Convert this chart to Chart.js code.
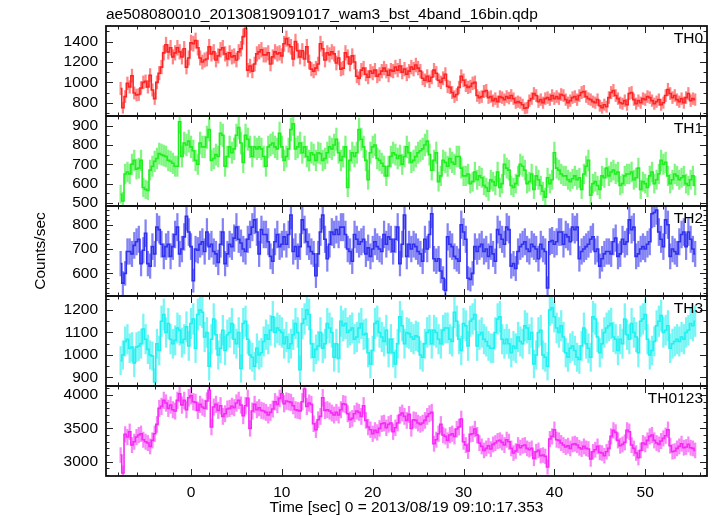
<!DOCTYPE html>
<html>
<head>
<meta charset="utf-8">
<title>ae508080010 wam3 bst 4band</title>
<script src="https://cdn.jsdelivr.net/npm/chart.js@4.4.0/dist/chart.umd.min.js"></script>
<style>
  html, body { margin: 0; padding: 0; background: #fff; }
  #wrap { position: relative; width: 717px; height: 516px; }
  #wrap canvas { position: absolute; left: 0; top: 0; }
</style>
</head>
<body>
<div id="wrap">
  <canvas id="c0" width="717" height="516"></canvas>
  <canvas id="c1" width="717" height="516"></canvas>
  <canvas id="c2" width="717" height="516"></canvas>
  <canvas id="c3" width="717" height="516"></canvas>
  <canvas id="c4" width="717" height="516"></canvas>
</div>
<script>
const fileTitle = 'ae508080010_20130819091017_wam3_bst_4band_16bin.qdp';
const xTitle = 'Time [sec] 0 = 2013/08/19 09:10:17.353';
const yTitle = 'Counts/sec';
const bandNames = ['TH0', 'TH1', 'TH2', 'TH3', 'TH0123'];

// 0.25 s bins (16 x 1/64 s), first bin centred at -7.75 s
const binStart = -7.75;
const binWidth = 0.25;

const th0 = [
  940, 750, 860, 990, 955, 1065, 895, 875, 880, 945, 1000, 1010, 955, 1070, 925, 840,
  1000, 1090, 1150, 1290, 1370, 1300, 1340, 1250, 1290, 1340, 1300, 1250, 1330, 1150, 1240, 1390,
  1380, 1410, 1340, 1240, 1200, 1220, 1230, 1350, 1280, 1300, 1220, 1260, 1320, 1340, 1280, 1230,
  1290, 1250, 1260, 1220, 1300, 1330, 1450, 1530, 1120, 1160, 1110, 1180, 1280, 1300, 1320, 1270,
  1270, 1290, 1180, 1250, 1300, 1280, 1290, 1260, 1380, 1430, 1370, 1350, 1230, 1400, 1310, 1250,
  1310, 1230, 1350, 1200, 1130, 1110, 1140, 1180, 1380, 1330, 1220, 1290, 1270, 1300, 1280, 1190,
  1240, 1130, 1140, 1290, 1250, 1180, 1260, 1200, 1060, 1040, 1120, 1140, 1080, 1050, 1110, 1090,
  1120, 1060, 1080, 1110, 1140, 1110, 1070, 1120, 1110, 1150, 1120, 1160, 1100, 1130, 1080, 1110,
  1150, 1130, 1170, 1140, 1110, 1040, 1020, 1060, 1010, 1050, 1120, 1090, 1020, 1000, 1040, 1080,
  960, 950, 900, 860, 880, 950, 1060, 1020, 970, 950, 960, 990, 1000, 870, 850, 860,
  910, 920, 850, 860, 820, 840, 810, 860, 850, 830, 860, 845, 870, 840, 800, 810,
  800, 780, 745, 750, 820, 840, 890, 870, 810, 830, 800, 840, 850, 830, 870, 840,
  860, 840, 880, 870, 830, 800, 820, 850, 860, 830, 870, 900, 910, 860, 840, 830,
  810, 800, 830, 770, 750, 780, 760, 850, 900, 920, 870, 840, 800, 790, 820, 780,
  890, 900, 830, 790, 820, 800, 840, 830, 860, 850, 820, 790, 810, 830, 780, 800,
  870, 930, 890, 850, 870, 830, 810, 840, 800, 850, 890, 820, 840, 830
];

const th1 = [
  545, 510, 650, 660, 650, 700, 720, 675, 680, 720, 580, 570, 565, 670, 690, 715,
  730, 755, 750, 745, 740, 720, 715, 705, 690, 690, 920, 740, 810, 800, 820, 790,
  770, 720, 700, 810, 790, 790, 840, 880, 720, 730, 750, 740, 860, 850, 690, 740,
  790, 760, 780, 850, 890, 810, 710, 850, 830, 790, 740, 790, 780, 790, 780, 740,
  690, 790, 800, 810, 790, 780, 860, 790, 720, 740, 780, 880, 910, 780, 790, 810,
  760, 790, 740, 720, 760, 750, 720, 760, 755, 720, 730, 760, 790, 780, 800, 830,
  760, 720, 740, 790, 580, 720, 760, 740, 760, 880, 830, 790, 720, 620, 760, 790,
  800, 730, 720, 705, 690, 640, 690, 740, 760, 750, 730, 745, 700, 740, 790, 760,
  710, 720, 740, 760, 770, 780, 800, 820, 750, 670, 720, 760, 610, 640, 720, 710,
  690, 730, 710, 700, 740, 740, 680, 640, 640, 650, 600, 610, 660, 620, 640, 630,
  590, 580, 560, 620, 610, 590, 660, 580, 600, 700, 680, 670, 590, 580, 600, 640,
  700, 690, 670, 600, 610, 650, 570, 640, 620, 590, 560, 530, 630, 600, 620, 760,
  680, 670, 650, 640, 640, 620, 610, 625, 640, 620, 630, 570, 650, 690, 720, 540,
  600, 610, 590, 570, 640, 630, 680, 640, 660, 670, 650, 660, 590, 600, 640, 650,
  650, 660, 620, 630, 680, 570, 610, 600, 580, 640, 660, 600, 620, 650, 720, 700,
  710, 640, 600, 620, 650, 640, 620, 630, 640, 600, 590, 620, 640, 590
];

const th2 = [
  640, 560, 600, 690, 690, 680, 715, 730, 740, 640, 695, 765, 640, 630, 710, 680,
  790, 780, 720, 670, 710, 720, 670, 710, 760, 790, 680, 700, 750, 835, 770, 710,
  570, 700, 695, 720, 730, 690, 770, 710, 720, 690, 680, 645, 720, 770, 640, 680,
  720, 710, 745, 790, 740, 725, 700, 690, 740, 760, 790, 820, 770, 680, 780, 760,
  760, 730, 670, 650, 730, 760, 710, 720, 750, 720, 760, 840, 690, 710, 670, 710,
  820, 780, 730, 710, 690, 680, 590, 680, 770, 840, 740, 660, 720, 770, 760, 780,
  760, 790, 790, 760, 700, 690, 650, 760, 740, 720, 730, 740, 680, 705, 670, 700,
  730, 710, 700, 690, 760, 720, 750, 740, 690, 740, 790, 640, 720, 840, 670, 720,
  700, 720, 710, 690, 680, 650, 740, 700, 760, 845, 660, 650, 660, 610, 580, 530,
  750, 720, 710, 670, 660, 650, 800, 770, 740, 580, 575, 600, 710, 690, 710, 720,
  690, 700, 670, 710, 680, 650, 780, 760, 740, 720, 790, 780, 630, 640, 620, 690,
  710, 720, 730, 700, 690, 720, 710, 700, 660, 720, 700, 690, 540, 730, 735, 720,
  730, 770, 770, 720, 760, 750, 730, 790, 780, 790, 660, 690, 700, 710, 720, 740,
  750, 690, 700, 630, 660, 680, 690, 690, 680, 730, 745, 670, 680, 740, 720, 730,
  820, 780, 790, 670, 680, 700, 710, 700, 720, 730, 845, 850, 860, 770, 740, 710,
  820, 800, 670, 700, 690, 680, 730, 760, 770, 710, 770, 740, 700, 680
];

const th3 = [
  975, 1000, 1060, 1070, 1030, 1035, 965, 1035, 1040, 1050, 1115, 1070, 1025, 1000, 995, 880,
  1050, 1020, 1150, 1180, 1100, 1140, 1070, 1050, 1065, 1120, 1110, 1055, 1070, 1125, 1040, 1140,
  1160, 1030, 1180, 1200, 1190, 1080, 1100, 950, 1070, 1160, 1090, 1000, 1030, 1110, 1020, 1090,
  1100, 1140, 1070, 1050, 1100, 940, 1140, 1150, 1070, 1000, 990, 950, 1030, 1000, 1010, 1060,
  1090, 1070, 1110, 1170, 1100, 1120, 1110, 1100, 1050, 1080, 1030, 1050, 1090, 1140, 1100, 935,
  1140, 1160, 1200, 1180, 1050, 990, 1025, 1040, 1100, 1030, 1050, 1140, 1120, 1100, 990, 1050,
  985, 1150, 1130, 1140, 1100, 1110, 1120, 1070, 1080, 1120, 1140, 1090, 1095, 1010, 960, 1020,
  1140, 1150, 1100, 1080, 1060, 1110, 1010, 1070, 1010, 960, 1050, 1170, 1130, 1050, 1100, 1095,
  1080, 1070, 1085, 1080, 1000, 990, 1050, 1100, 1110, 1050, 1110, 1100, 1070, 1050, 1110, 1120,
  1120, 1070, 1060, 1190, 1150, 1070, 1020, 1140, 1130, 1040, 1150, 1160, 1180, 1040, 1090, 1100,
  1070, 1060, 1040, 1030, 1030, 1100, 1160, 1170, 1070, 1050, 1070, 1050, 1010, 1040, 1030, 1080,
  1060, 1050, 1130, 1120, 1070, 1100, 960, 1000, 1100, 1110, 1000, 990, 950, 1200, 1210, 1170,
  1120, 1100, 1130, 1080, 1010, 990, 1030, 1040, 1020, 990, 980, 1040, 1120, 1050, 1030, 990,
  1170, 1160, 1080, 1010, 1050, 1100, 1120, 1130, 1140, 1080, 1070, 1020, 1070, 1050, 1160, 1090,
  1070, 1140, 1100, 1080, 1010, 1150, 1160, 1180, 1070, 1000, 1020, 1060, 1130, 1150, 1175, 1100,
  1110, 1130, 1030, 1050, 1060, 1070, 1060, 1080, 1070, 1100, 1110, 1140, 1130, 1150
];

const th0123 = [
  3100, 2830, 3410, 3370, 3450, 3250, 3300, 3370, 3400, 3420, 3330, 3300, 3280, 3230, 3320, 3420,
  3560, 3800, 3830, 3920, 3880, 3800, 3850, 3780, 3760, 3920, 4020, 3850, 3920, 3780, 3960, 3990,
  3900, 3890, 3770, 3860, 3820, 3800, 3910, 4070, 3520, 3820, 3860, 3770, 3840, 3680, 3720, 3790,
  3800, 3830, 3810, 3880, 3920, 3850, 3690, 3840, 3950, 3500, 3760, 3860, 3780, 3810, 3770, 3760,
  3740, 3700, 3740, 3790, 3900, 3860, 3950, 4020, 3870, 3910, 3900, 3890, 3840, 3780, 3770, 3760,
  3900, 4090, 3830, 3880, 3860, 3570, 3480, 3630, 3680, 3960, 3770, 3780, 3760, 3730, 3700, 3740,
  3700, 3780, 3870, 3860, 3720, 3630, 3650, 3720, 3760, 3740, 3680, 3840, 3620, 3520, 3480, 3420,
  3470, 3440, 3500, 3570, 3580, 3510, 3560, 3580, 3450, 3510, 3580, 3700, 3730, 3680, 3620, 3710,
  3500, 3630, 3620, 3580, 3560, 3580, 3620, 3680, 3720, 3740, 3270, 3330, 3420, 3560, 3400, 3380,
  3320, 3400, 3420, 3380, 3490, 3520, 3640, 3300, 3250, 3160, 3410, 3420, 3490, 3400, 3280, 3230,
  3170, 3200, 3240, 3190, 3260, 3280, 3310, 3320, 3290, 3250, 3330, 3300, 3200, 3130, 3160, 3250,
  3210, 3240, 3250, 3200, 3180, 3200, 3050, 3150, 3170, 3090, 3100, 3080, 2920, 3340, 3380, 3480,
  3330, 3320, 3280, 3250, 3220, 3240, 3200, 3260, 3270, 3250, 3210, 3190, 3230, 3200, 3190, 3040,
  3150, 3180, 3230, 3140, 3130, 3090, 3150, 3200, 3380, 3470, 3440, 3320, 3240, 3260, 3290, 3470,
  3450, 3250, 3200, 3130, 3060, 3170, 3280, 3260, 3320, 3380, 3400, 3320, 3280, 3260, 3310, 3350,
  3390, 3480, 3240, 3150, 3160, 3200, 3230, 3270, 3210, 3220, 3260, 3210, 3200, 3170
];

const xTickValues = [0, 10, 20, 30, 40, 50];
const th0Ticks = [800, 1000, 1200, 1400];
const th1Ticks = [500, 600, 700, 800, 900];
const th2Ticks = [600, 700, 800];
const th3Ticks = [900, 1000, 1100, 1200];
const th0123Ticks = [3000, 3500, 4000];

const fontFamily = '"Liberation Sans", Arial, Helvetica, sans-serif';
const textFont = { family: fontFamily, size: 15.5, weight: 'normal', lineHeight: 1.2 };

const panels = [
  { data: th0, ticks: th0Ticks, minor: 100, min: 669, max: 1554, top: 26, bottom: 116, line: '#ff2424', err: 'rgba(255,60,60,0.62)' },
  { data: th1, ticks: th1Ticks, minor: 50, min: 484, max: 950, top: 116, bottom: 206, line: '#20ee20', err: 'rgba(50,240,50,0.62)' },
  { data: th2, ticks: th2Ticks, minor: 20, min: 507, max: 877, top: 206, bottom: 296, line: '#3030f0', err: 'rgba(55,55,240,0.62)' },
  { data: th3, ticks: th3Ticks, minor: 50, min: 862, max: 1262, top: 296, bottom: 386, line: '#20f0f0', err: 'rgba(50,240,240,0.66)' },
  { data: th0123, ticks: th0123Ticks, minor: 100, min: 2786, max: 4136, top: 386, bottom: 476, line: '#f52af5', err: 'rgba(245,60,245,0.62)' }
];

const times = th0.map((_, i) => binStart + i * binWidth);

// frame, inward tick marks and the band label of each panel
const panelFrame = {
  id: 'panelFrame',
  afterDatasetsDraw(chart, args, opts) {
    const { ctx, chartArea: a, scales: { x, y } } = chart;
    ctx.save();
    ctx.strokeStyle = '#222';
    ctx.lineWidth = 1;
    ctx.beginPath();
    for (let v = Math.ceil(x.min / 2) * 2; v <= x.max; v += 2) {
      const px = Math.round(x.getPixelForValue(v)) + 0.5;
      const len = v % 10 === 0 ? 7 : 3.5;
      ctx.moveTo(px, a.top); ctx.lineTo(px, a.top + len);
      ctx.moveTo(px, a.bottom); ctx.lineTo(px, a.bottom - len);
    }
    for (let v = Math.ceil(y.min / opts.minor) * opts.minor; v <= y.max; v += opts.minor) {
      const py = Math.round(y.getPixelForValue(v)) + 0.5;
      const len = opts.majors.includes(v) ? 7 : 3.5;
      ctx.moveTo(a.left, py); ctx.lineTo(a.left + len, py);
      ctx.moveTo(a.right, py); ctx.lineTo(a.right - len, py);
    }
    ctx.stroke();
    ctx.strokeStyle = '#111';
    ctx.lineWidth = 1.8;
    ctx.strokeRect(a.left, a.top, a.right - a.left, a.bottom - a.top);
    ctx.fillStyle = '#000';
    ctx.font = textFont.size + 'px ' + fontFamily;
    ctx.textAlign = 'right';
    ctx.textBaseline = 'middle';
    ctx.fillText(opts.name, a.right - 4, a.top + 13);
    ctx.restore();
  }
};

panels.forEach((p, idx) => {
  const last = idx === panels.length - 1;
  const steps = p.data.map((v, i) => ({ x: times[i], y: v }));
  const errBars = p.data.map((v, i) => {
    const e = Math.sqrt(v / binWidth);
    return { x: times[i], y: [v - e, v + e] };
  });

  new Chart(document.getElementById('c' + idx), {
    type: 'line',
    data: {
      datasets: [
        { type: 'line', data: steps, borderColor: p.line, borderWidth: 1.6, stepped: 'middle', pointRadius: 0, fill: false, order: 0, clip: 0 },
        { type: 'bar', data: errBars, backgroundColor: p.err, barThickness: 1.6, order: 1, clip: 0 }
      ]
    },
    options: {
      responsive: false,
      animation: false,
      events: [],
      layout: { padding: { left: 0, right: 10, top: idx === 0 ? 0 : p.top, bottom: last ? 0 : 516 - p.bottom } },
      plugins: {
        legend: { display: false },
        tooltip: { enabled: false },
        title: {
          display: idx === 0, text: fileTitle, align: 'start', fullSize: false,
          color: '#000', font: textFont, padding: { top: 5, bottom: 2.4 }
        },
        panelFrame: { name: bandNames[idx], minor: p.minor, majors: p.ticks }
      },
      scales: {
        x: {
          type: 'linear', min: -9.36, max: 56.8, display: last, offset: false,
          grid: { display: false, drawTicks: false, offset: false }, border: { display: false },
          afterBuildTicks: s => { s.ticks = xTickValues.map(v => ({ value: v })); },
          afterFit: s => { if (last) s.height = 40; },
          ticks: { padding: 7, color: '#000', font: textFont, maxRotation: 0, autoSkip: false, callback: v => String(v) },
          title: { display: true, text: xTitle, color: '#000', font: textFont, padding: { top: 0, bottom: -1 } }
        },
        y: {
          type: 'linear', min: p.min, max: p.max,
          grid: { display: false, drawTicks: false }, border: { display: false },
          afterBuildTicks: s => { s.ticks = p.ticks.map(v => ({ value: v })); },
          afterFit: s => { s.width = 106; },
          ticks: { padding: 8, color: '#000', font: textFont, autoSkip: false, callback: v => String(v) },
          title: { display: idx === 2, text: yTitle, color: '#000', font: textFont, padding: { top: 31, bottom: 0 } }
        }
      }
    },
    plugins: [panelFrame]
  });
});
</script>
</body>
</html>
